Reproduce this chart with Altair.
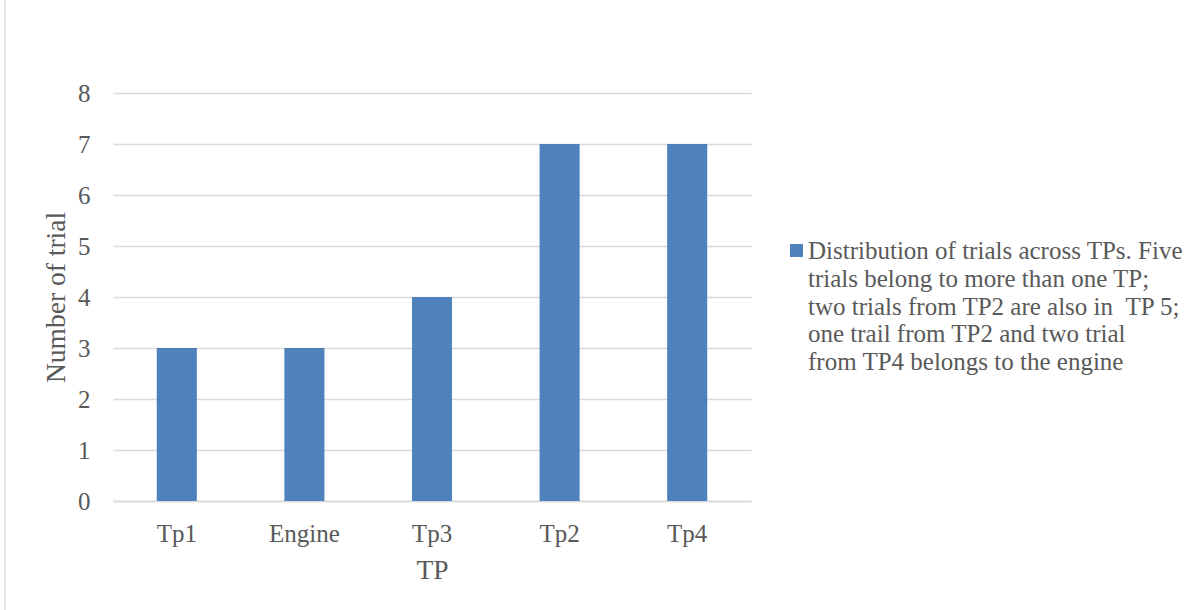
import altair as alt
import pandas as pd

# Trial counts per TP
categories = ["Tp1", "Engine", "Tp3", "Tp2", "Tp4"]
trial_counts = [3, 3, 4, 7, 7]

legend_lines = [
    "Distribution of trials across TPs. Five",
    "trials belong to more than one TP;",
    "two trials from TP2 are also in \u00a0TP 5;",
    "one trail from TP2 and two trial",
    "from TP4 belongs to the engine",
]

FONT = "Liberation Serif"
TEXT = "#595959"
GRID = "#d9d9d9"
BAR = "#4f81bd"

df = pd.DataFrame({"TP": categories, "count": trial_counts})

W, H = 638, 408
LEFT, TOP = 113, 93

bars = alt.Chart(df).mark_bar(color=BAR).encode(
    x=alt.X(
        "TP:N",
        sort=categories,
        scale=alt.Scale(paddingInner=0.686, paddingOuter=0.343),
        axis=alt.Axis(
            title="TP",
            labelAngle=0,
            ticks=False,
            tickSize=0,
            domainColor=GRID,
            domainWidth=1.5,
            labelPadding=20,
            titlePadding=10,
        ),
    ),
    y=alt.Y(
        "count:Q",
        scale=alt.Scale(domain=[0, 8], nice=False),
        axis=alt.Axis(
            title="Number of trial",
            values=list(range(0, 9)),
            ticks=False,
            tickSize=0,
            domain=False,
            gridColor=GRID,
            gridWidth=1.5,
            labelPadding=23,
            titlePadding=7,
        ),
    ),
)

# Legend swatch and wrapped legend label
legend_box = alt.Chart(df.head(1)).mark_square(color=BAR, size=169, opacity=1).encode(
    x=alt.value(796.5 - LEFT),
    y=alt.value(250.5 - TOP),
)

legend_text = alt.Chart(df.head(1)).mark_text(
    align="left", baseline="alphabetic", font=FONT, fontSize=25,
    color=TEXT, lineHeight=27.8,
).encode(
    x=alt.value(808 - LEFT),
    y=alt.value(259 - TOP),
    text=alt.value(legend_lines),
)

# Chart-area border on the left
frame = alt.Chart(df.head(1)).mark_rule(color=GRID, strokeWidth=1.5).encode(
    x=alt.value(5 - LEFT),
    y=alt.value(-TOP),
    y2=alt.value(610 - TOP),
)

chart = alt.layer(frame, bars, legend_box, legend_text).properties(
    width=W,
    height=H,
    autosize=alt.AutoSizeParams(type="none"),
    padding={"left": LEFT, "top": TOP, "right": 1198 - LEFT - W, "bottom": 610 - TOP - H},
    background="white",
).configure_view(stroke=None).configure_axis(
    labelFont=FONT,
    titleFont=FONT,
    labelFontSize=25,
    titleFontSize=27.5,
    labelColor=TEXT,
    titleColor=TEXT,
    titleFontWeight="normal",
)

chart.save("out.html", embed_options={"renderer": "svg", "actions": False})
